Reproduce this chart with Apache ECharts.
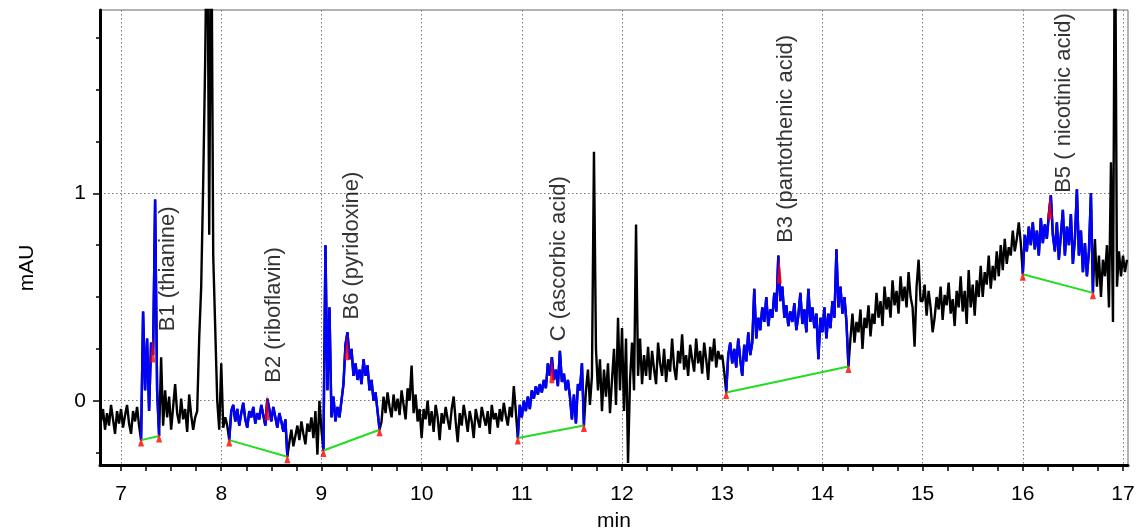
<!DOCTYPE html>
<html>
<head>
<meta charset="utf-8">
<title>Vitamin chromatogram</title>
<script src="https://cdn.jsdelivr.net/npm/echarts@6/dist/echarts.min.js"></script>
<style>
  html, body { margin: 0; padding: 0; background: #fff; }
  #chart { width: 1136px; height: 531px; }
</style>
</head>
<body>
<div id="chart"></div>
<script>
// detector signal (mAU), every 0.02 min
var STEP = 0.02
var trace0680 = [-0.10, -0.04, -0.14, -0.06, -0.12, -0.02, -0.09, -0.16, -0.05, -0.11]
var trace07 = [
  -0.04, -0.13, -0.07, -0.02, -0.11, -0.16, -0.05, -0.10, -0.03, -0.12,
  -0.19, 0.43, 0.05, 0.30, -0.05, 0.28, 0.22, 0.97, 0.05, -0.17,
  0.21, -0.12, 0.05, -0.08, 0.02, -0.14, -0.03, 0.08, -0.06, -0.11,
  0.01, -0.09, -0.04, -0.15, 0.03, -0.07, -0.14, -0.08, -0.05, 0.30,
  0.55, 1.05, 1.65, 2.5, 0.8, 2.5, 0.7, 0.35, 0.0, -0.14
]
var trace08 = [
  0.18, -0.13, -0.08, -0.12, -0.19, -0.05, -0.02, -0.10, -0.04, -0.12,
  -0.06, -0.01, -0.09, -0.13, -0.05, -0.08, -0.03, -0.11, -0.06, -0.09,
  -0.02, -0.07, -0.12, 0.01, -0.04, -0.10, -0.03, -0.08, -0.13, -0.06,
  -0.10, -0.15, -0.09, -0.27, -0.20, -0.14, -0.22, -0.17, -0.12, -0.19,
  -0.10, -0.16, -0.21, -0.11, -0.15, -0.08, -0.18, -0.05, -0.26, 0.00
]
var trace09 = [
  -0.14, -0.24, 0.75, 0.05, 0.45, -0.08, 0.02, -0.10, -0.03, -0.08,
  0.00, 0.08, 0.27, 0.33, 0.20, 0.25, 0.12, 0.18, 0.10, 0.15,
  0.08, 0.20, 0.12, 0.17, 0.05, 0.10, 0.00, 0.04, -0.05, -0.14,
  -0.10, 0.02, -0.06, 0.04, -0.03, -0.08, 0.03, -0.05, 0.01, -0.07,
  0.05, -0.02, -0.09, 0.06, 0.00, 0.17, -0.06, 0.03, -0.10, -0.04
]
var trace10 = [
  -0.18, -0.04, -0.09, 0.00, -0.12, -0.05, -0.15, -0.02, -0.08, -0.19,
  -0.06, -0.11, -0.03, -0.09, -0.14, -0.04, 0.02, -0.10, -0.20, -0.06,
  -0.12, -0.02, -0.08, -0.15, -0.05, -0.10, -0.18, -0.04, -0.09, -0.13,
  -0.03, -0.08, -0.12, -0.05, -0.16, -0.02, -0.09, -0.06, -0.13, -0.04,
  -0.10, -0.01, -0.07, -0.12, -0.03, -0.08, 0.07, -0.05, -0.18, -0.02
]
var trace11 = [
  -0.08, 0.00, -0.05, 0.02, -0.04, 0.05, 0.01, 0.07, 0.03, 0.08,
  0.04, 0.10, 0.06, 0.18, 0.12, 0.21, 0.10, 0.15, 0.07, 0.24,
  0.09, 0.13, 0.05, 0.10, 0.02, -0.09, 0.03, -0.11, 0.08, 0.05,
  0.18, -0.12, 0.05, 0.15, -0.02, 0.12, 1.20, 0.25, 0.05, 0.20,
  -0.05, 0.15, 0.02, 0.18, -0.06, 0.10, 0.25, -0.02, 0.40, 0.05
]
var trace12 = [
  0.35, -0.05, 0.30, -0.30, 0.10, 0.28, 0.05, 0.85, 0.12, 0.30,
  0.08, 0.22, 0.12, 0.26, 0.10, 0.24, 0.15, 0.08, 0.28, 0.18,
  0.12, 0.25, 0.09, 0.20, 0.14, 0.30, 0.16, 0.10, 0.24, 0.18,
  0.32, 0.15, 0.22, 0.12, 0.27, 0.20, 0.14, 0.30, 0.18, 0.24,
  0.13, 0.28, 0.20, 0.10, 0.26, 0.19, 0.30, 0.16, 0.24, 0.20
]
var trace13 = [
  0.22, 0.14, 0.04, 0.22, 0.28, 0.18, 0.25, 0.16, 0.30, 0.20,
  0.12, 0.27, 0.19, 0.33, 0.22, 0.28, 0.54, 0.30, 0.40, 0.34,
  0.45, 0.38, 0.50, 0.36, 0.44, 0.40, 0.52, 0.43, 0.70, 0.48,
  0.55, 0.40, 0.46, 0.36, 0.43, 0.38, 0.47, 0.34, 0.41, 0.52,
  0.37, 0.44, 0.33, 0.54, 0.38, 0.45, 0.35, 0.42, 0.20, 0.40
]
var trace14 = [
  0.33, 0.45, 0.30, 0.42, 0.35, 0.48, 0.40, 0.73, 0.45, 0.55,
  0.42, 0.50, 0.38, 0.165, 0.30, 0.42, 0.28, 0.38, 0.33, 0.44,
  0.25, 0.40, 0.35, 0.46, 0.31, 0.42, 0.37, 0.52, 0.40, 0.48,
  0.36, 0.55, 0.44, 0.50, 0.40, 0.58, 0.46, 0.53, 0.42, 0.60,
  0.48, 0.55, 0.45, 0.62, 0.50, 0.45, 0.26, 0.55, 0.68, 0.48
]
var trace15 = [
  0.48, 0.56, 0.41, 0.53, 0.45, 0.33, 0.40, 0.50, 0.44, 0.55,
  0.39, 0.51, 0.46, 0.57, 0.42, 0.49, 0.36, 0.53, 0.45, 0.60,
  0.43, 0.53, 0.37, 0.63, 0.45, 0.56, 0.41, 0.58, 0.50, 0.65,
  0.50, 0.62, 0.56, 0.70, 0.54, 0.65, 0.58, 0.72, 0.60, 0.75,
  0.63, 0.78, 0.66, 0.74, 0.70, 0.82, 0.72, 0.78, 0.86, 0.76
]
var trace16 = [
  0.61, 0.80, 0.72, 0.84, 0.75, 0.86, 0.73, 0.82, 0.70, 0.88,
  0.76, 0.85, 0.78, 0.90, 0.99, 0.80, 0.72, 0.86, 0.68, 0.80,
  0.92, 0.70, 0.84, 0.75, 0.90, 0.66, 0.78, 1.02, 0.70, 0.82,
  0.62, 0.76, 0.60, 0.72, 1.00, 0.52, 0.78, 0.55, 0.70, 0.50,
  0.68, 0.60, 0.75, 0.45, 1.15, 0.38, 2.5, 0.55, 0.72, 0.60
]
var trace17 = [0.70, 0.62, 0.68]

// start time of each piece above
var traceParts = [
  [6.80, trace0680], [7, trace07], [8, trace08], [9, trace09], [10, trace10],
  [11, trace11], [12, trace12], [13, trace13], [14, trace14], [15, trace15],
  [16, trace16], [17, trace17]
]

// integrated peaks
var peakNames = ['B1 (thianine)', 'B2 (riboflavin)', 'B6 (pyridoxine)',
  'C (ascorbic acid)', 'B3 (pantothenic acid)', 'B5 ( nicotinic acid)']
var peakStart = [[7.20, -0.19], [8.08, -0.19], [9.02, -0.24], [10.96, -0.18], [13.04, 0.04], [16.00, 0.61]]
var peakEnd = [[7.38, -0.17], [8.66, -0.27], [9.58, -0.14], [11.62, -0.12], [14.26, 0.165], [16.70, 0.52]]
var peakApex = [[7.316, 0.31], [8.457, 0.03], [9.255, 0.32], [11.30, 0.21], [13.57, 0.69], [16.27, 1.0]]
var labelAt = [[7.469, 0.333], [8.527, 0.084], [9.31, 0.389], [11.371, 0.284], [13.637, 0.759], [16.42, 1.0]]

// axis ticks
var xTicks = [7, 8, 9, 10, 11, 12, 13, 14, 15, 16, 17]
var yTicks = [0, 1]
var yMinorTicks = [-0.25, 0, 0.25, 0.5, 0.75, 1, 1.25, 1.5, 1.75]

var FONT = "'Liberation Sans', Arial, sans-serif"
var TRACE_W = 2.4

// build [t, mAU] points
var signal = []
traceParts.forEach(function (part) {
  part[1].forEach(function (v, i) {
    signal.push([Math.round((part[0] + i * STEP) * 100) / 100, v])
  })
})

var xMinorTicks = []
xTicks.forEach(function (t, i) {
  xMinorTicks.push(t)
  if (i < xTicks.length - 1) xMinorTicks.push(t + 0.25, t + 0.5, t + 0.75)
})

var series = [{
  type: 'line',
  data: signal,
  showSymbol: false,
  silent: true,
  lineStyle: { color: '#000', width: TRACE_W },
  z: 2
}]

// blue integrated segments
peakStart.forEach(function (s, i) {
  var e = peakEnd[i]
  series.push({
    type: 'line',
    data: signal.filter(function (p) { return p[0] >= s[0] - 1e-6 && p[0] <= e[0] + 1e-6 }),
    showSymbol: false,
    silent: true,
    lineStyle: { color: '#0000ff', width: TRACE_W },
    z: 3
  })
  // baseline
  series.push({
    type: 'line',
    data: [s, e],
    showSymbol: false,
    silent: true,
    lineStyle: { color: '#22dd22', width: 2 },
    z: 4
  })
})

// baseline end markers
series.push({
  type: 'scatter',
  data: peakStart.concat(peakEnd),
  symbol: 'triangle',
  symbolSize: [6, 9],
  symbolOffset: [0, 2],
  itemStyle: { color: '#ff0000' },
  silent: true,
  z: 5
})

// apex markers
series.push({
  type: 'scatter',
  data: peakApex,
  symbol: 'triangle',
  symbolSize: [5, 26],
  symbolOffset: [0, 13],
  itemStyle: { color: '#ff0000' },
  silent: true,
  z: 5
})

// peak names
series.push({
  type: 'scatter',
  data: labelAt.map(function (p, i) { return { name: peakNames[i], value: p } }),
  symbolSize: 1,
  itemStyle: { color: 'rgba(0,0,0,0)' },
  silent: true,
  label: {
    show: true,
    formatter: function (p) { return p.name },
    position: [0, 0],
    rotate: 90,
    align: 'left',
    verticalAlign: 'middle',
    fontSize: 22,
    fontFamily: FONT,
    color: '#000'
  },
  z: 6
})

var chart = echarts.init(document.getElementById('chart'))

var option = {
  animation: false,
  backgroundColor: '#fff',
  grid: {
    left: 100, right: 8, top: 10, bottom: 66,
    show: true, borderColor: '#666', borderWidth: 1,
    containLabel: false,
    outerBoundsMode: 'none'
  },
  xAxis: [{
    type: 'value',
    min: 6.79,
    max: 17.05,
    name: 'min',
    nameLocation: 'middle',
    nameGap: 46,
    nameTextStyle: { fontSize: 21, fontFamily: FONT, color: '#000' },
    axisLine: { onZero: false, lineStyle: { color: '#000', width: 3 } },
    axisTick: { customValues: xMinorTicks, length: 6, lineStyle: { color: '#000', width: 1.5 } },
    axisLabel: { customValues: xTicks, fontSize: 21, fontFamily: FONT, color: '#000', margin: 19 },
    splitLine: { show: false }
  }, {
    // only carries the dotted grid lines at whole minutes
    type: 'value',
    min: 6.79,
    max: 17.05,
    position: 'top',
    axisLine: { show: false },
    axisTick: { show: false, customValues: xTicks },
    axisLabel: { show: false, customValues: xTicks },
    splitLine: { show: true, lineStyle: { color: '#777', type: [1.5, 2.5], width: 1 } }
  }],
  yAxis: [{
    type: 'value',
    min: -0.31,
    max: 1.884,
    axisLine: { show: true, onZero: false, lineStyle: { color: '#000', width: 3 } },
    axisTick: { show: true, customValues: yMinorTicks, length: 4, lineStyle: { color: '#000', width: 1.5 } },
    axisLabel: { customValues: yTicks, fontSize: 21, fontFamily: FONT, color: '#000', margin: 14 },
    splitLine: { show: false }
  }, {
    type: 'value',
    min: -0.31,
    max: 1.884,
    position: 'left',
    axisLine: { show: false },
    axisTick: { show: true, customValues: yTicks, length: 7, lineStyle: { color: '#000', width: 1.5 } },
    axisLabel: { show: false, customValues: yTicks },
    splitLine: { show: true, lineStyle: { color: '#777', type: [1.5, 2.5], width: 1 } }
  }],
  graphic: [{
    type: 'text',
    x: 27,
    y: 268,
    rotation: Math.PI / 2,
    style: { text: 'mAU', fontSize: 21, fontFamily: FONT, fill: '#000', align: 'center', verticalAlign: 'middle' }
  }],
  series: series
}

chart.setOption(option)
</script>
</body>
</html>
